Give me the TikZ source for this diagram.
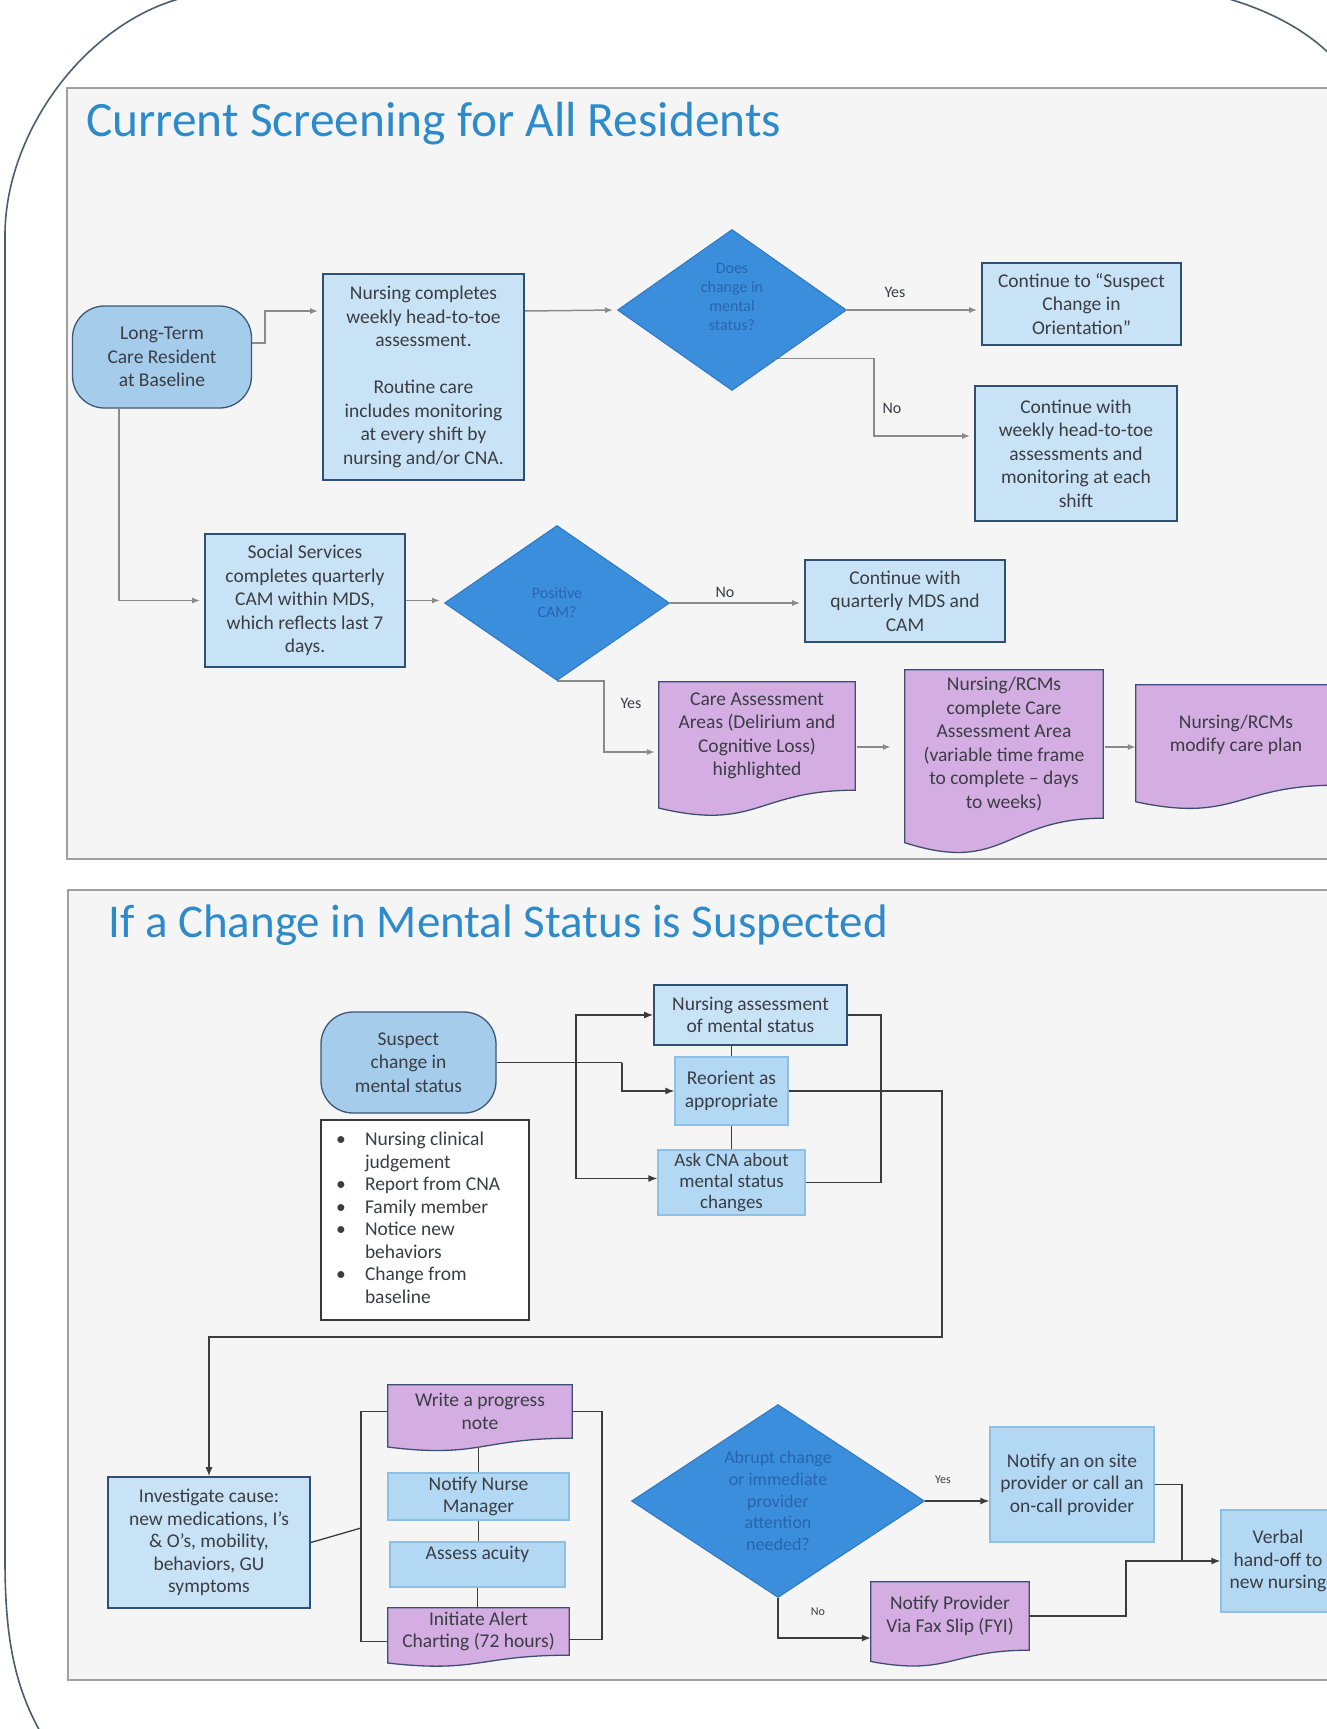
\documentclass[tikz,border=0pt]{standalone}
\usepackage{fontspec}
\setmainfont{Carlito}
\usetikzlibrary{shapes.geometric,arrows.meta,calc}
\definecolor{termf}{HTML}{A5CDEB}
\definecolor{termb}{HTML}{3C5876}
\definecolor{procf}{HTML}{C9E3F6}
\definecolor{procb}{HTML}{2F4F73}
\definecolor{lightf}{HTML}{B3D8F3}
\definecolor{lightb}{HTML}{8EC0E6}
\definecolor{decf}{HTML}{3B8EDC}
\definecolor{decb}{HTML}{2F78C4}
\definecolor{dect}{HTML}{2766AE}
\definecolor{docf}{HTML}{D4AEE2}
\definecolor{docb}{HTML}{3E4E72}
\definecolor{txt}{HTML}{3A3D44}
\definecolor{conna}{HTML}{8A8A8A}
\definecolor{connb}{HTML}{3C3C3C}
\definecolor{panelf}{HTML}{F5F5F5}
\definecolor{panelb}{HTML}{A0A0A0}
\definecolor{framec}{HTML}{4D5D6E}
\definecolor{titlec}{HTML}{2D8BCB}
\definecolor{listb}{HTML}{3A3A3A}
\newcommand\bfnt{\fontsize{19.5}{23.5}\selectfont}
\newcommand\pfnt{\fontsize{19.5}{22.5}\selectfont}
\newcommand\dfnt{\fontsize{16}{19}\selectfont}
\newcommand\dfntb{\fontsize{18}{21.7}\selectfont}
\newcommand\tfnta{\fontsize{49.4}{56}\selectfont}
\newcommand\tfntb{\fontsize{47}{56}\selectfont}
\newcommand\lfnt{\fontsize{16}{18}\selectfont}
\newcommand\sfnt{\fontsize{12}{14}\selectfont}
\pgfdeclarelayer{bg}
\pgfdeclarelayer{lines}
\pgfdeclarelayer{docs}
\pgfsetlayers{bg,lines,docs,main}
\newcommand\docshape[1]{%
\begin{pgfonlayer}{docs}
\path[docpath] let \p1=(#1.north west), \p2=(#1.south east) in
 (\x1,\y1) -- (\x2,\y1) -- (\x2,\y2)
 .. controls ({(\x1+\x2)/2},\y2) and ({(\x1+\x2)/2},{\y2-0.38*(\y1-\y2)}) ..
 (\x1,{\y2-0.165*(\y1-\y2)}) -- cycle;
\end{pgfonlayer}}
\tikzset{
 base/.style={align=center, font=\bfnt, text=txt, inner sep=1pt},
 term/.style={base, rectangle, rounded corners=32pt, draw=termb, fill=termf, line width=1.3pt},
 proc/.style={base, rectangle, draw=procb, fill=procf, line width=1.6pt},
 procl/.style={base, rectangle, draw=lightb, fill=lightf, line width=1.3pt, inner ysep=0pt},
 dec/.style={base, diamond, aspect=1.5, draw=decb, fill=decf, line width=1pt, text=dect, font=\dfnt, inner sep=0pt},
 docn/.style={base, rectangle},
 docpath/.style={fill=docf, draw=docb, line width=1.3pt},
 listbox/.style={rectangle, draw=listb, fill=white, line width=1.5pt, font=\pfnt, text=txt, inner sep=0pt},
 ttl/.style={text=titlec, inner sep=0pt, anchor=base west},
 lab/.style={font=\lfnt, text=txt, inner sep=0pt},
 labs/.style={font=\sfnt, text=txt, inner sep=0pt},
 ca/.style={draw=conna, line width=1.5pt, -{Latex[length=8pt,width=6pt]}, shorten >=4pt},
 cb/.style={draw=connb, line width=1.3pt, -{Latex[length=9pt,width=7pt]}},
 lb/.style={draw=connb, line width=1.3pt},
 panel/.style={draw=panelb, fill=panelf, line width=2pt},
 frm/.style={draw=framec, line width=1.6pt},
}
\begin{document}
\begin{tikzpicture}[x=1pt,y=-1pt]
\useasboundingbox (0,0) rectangle (1327,1729);
\clip (0,0) rectangle (1327,1729);
\begin{pgfonlayer}{bg}
\fill[white] (0,0) rectangle (1327,1729);
\draw[frm] (45,1740) .. controls (15,1690) and (5,1640) .. (5,1560) -- (5,235) .. controls (5,130) and (90,15) .. (195,-5);
\draw[frm] (1215,-5) .. controls (1265,8) and (1310,30) .. (1340,65);
\draw[panel] (67,88) rectangle (1345,859);
\draw[panel] (68,890) rectangle (1345,1680);
\end{pgfonlayer}

% titles
\node[ttl, font=\tfnta] (t1) at (86,136) {Current Screening for All Residents};
\node[ttl, font=\tfntb] (t2) at (108,937) {If a Change in Mental Status is Suspected};

% ---- panel 1
\node[term, minimum width=179pt, minimum height=102pt] (start) at (162,357) {Long-Term\\Care Resident\\at Baseline};
\node[proc, minimum width=201pt, minimum height=206pt] (nurse) at (423.5,377) {Nursing completes\\weekly head-to-toe\\assessment.\\\mbox{}\\Routine care\\includes monitoring\\at every shift by\\nursing and/or CNA.};
\node[dec, minimum width=229pt, minimum height=161pt] (d1) at (732,310) {Does\\change in\\mental\\status?\\[8pt]\mbox{}};
\node[proc, minimum width=199pt, minimum height=82pt] (yesb) at (1081.5,304) {Continue to “Suspect\\Change in\\Orientation”};
\node[proc, minimum width=202pt, minimum height=135pt] (nob) at (1076,453.5) {Continue with\\weekly head-to-toe\\assessments and\\monitoring at each\\shift};
\node[proc, minimum width=200pt, minimum height=133pt] (soc) at (305,600.5) {Social Services\\completes quarterly\\CAM within MDS,\\which reflects last 7\\days.};
\node[dec, minimum width=225pt, minimum height=155pt] (d2) at (557,603) {Positive\\CAM?};
\node[proc, minimum width=200pt, minimum height=82pt] (quart) at (905,601) {Continue with\\quarterly MDS and\\CAM};
\node[docn, minimum width=196pt, minimum height=108pt] (caa) at (757,736) {Care Assessment\\Areas (Delirium and\\Cognitive Loss)\\highlighted};
\docshape{caa}
\node[docn, minimum width=198pt, minimum height=148pt] (comp) at (1004,744) {Nursing/RCMs\\complete Care\\Assessment Area\\(variable time frame\\to complete – days\\to weeks)};
\docshape{comp}
\node[docn, minimum width=200pt, minimum height=100pt] (modify) at (1236,735) {Nursing/RCMs\\modify care plan};
\docshape{modify}

\node[lab] (ly1) at (895,292) {Yes};
\node[lab] (ln1) at (892,408) {No};
\node[lab] (ln2) at (725,592) {No};
\node[lab] (ly2) at (631,703) {Yes};

% ---- panel 2
\node[term, minimum width=175pt, minimum height=101pt] (susp) at (408.5,1062.5) {Suspect\\change in\\mental status};
\node[listbox, minimum width=208pt, minimum height=200pt] (lst) at (425,1220) {\begin{tabular}{@{}p{29pt}@{}p{149pt}@{}}
\textbullet & Nursing clinical\\
 & judgement\\
\textbullet & Report from CNA\\
\textbullet & Family member\\
\textbullet & Notice new\\
 & behaviors\\
\textbullet & Change from\\
 & baseline
\end{tabular}};
\node[proc, font=\pfnt, minimum width=193pt, minimum height=60pt] (nasmt) at (750.5,1015) {Nursing assessment\\of mental status};
\node[procl, font=\pfnt, minimum width=113pt, minimum height=68pt] (reor) at (731.5,1091) {Reorient as\\appropriate};
\node[procl, font=\fontsize{19}{21}\selectfont, minimum width=147pt, minimum height=65pt] (askcna) at (731.5,1182.5) {Ask CNA about\\mental status\\changes};
\node[proc, font=\pfnt, minimum width=202pt, minimum height=131pt] (inv) at (209,1542.5) {Investigate cause:\\new medications, I’s\\\& O’s, mobility,\\behaviors, GU\\symptoms};
\node[docn, font=\pfnt, minimum width=184pt, minimum height=53pt] (prog) at (480,1411.5) {Write a progress\\note};
\docshape{prog}
\node[procl, font=\pfnt, minimum width=181pt, minimum height=47pt] (nnm) at (478.5,1496.5) {Notify Nurse\\Manager};
\node[procl, font=\pfnt, minimum width=175pt, minimum height=45pt] (acuity) at (477.5,1564.5) {Assess acuity\\\mbox{}};
\node[docn, font=\pfnt, minimum width=181pt, minimum height=47pt] (init) at (478.5,1631.5) {Initiate Alert\\Charting (72 hours)};
\docshape{init}
\node[dec, font=\dfntb, minimum width=293pt, minimum height=193pt] (d3) at (778,1501) {Abrupt change\\or immediate\\provider\\attention\\needed?};
\node[procl, font=\pfnt, minimum width=164pt, minimum height=115pt] (onsite) at (1072,1484.5) {Notify an on site\\provider or call an\\on-call provider};
\node[docn, font=\pfnt, minimum width=158pt, minimum height=68pt] (fax) at (950,1616) {Notify Provider\\Via Fax Slip (FYI)};
\docshape{fax}
\node[procl, font=\pfnt, minimum width=114pt, minimum height=102pt] (verbal) at (1278,1561) {Verbal\\hand-off to\\new nursing};

\node[labs] (ly3) at (943,1480) {Yes};
\node[labs] (ln3) at (818,1612) {No};

\coordinate (j1) at (576,1062.5);
\coordinate (j2) at (622,1062.5);
\coordinate (bl) at (361,1528);
\coordinate (br) at (602,1528);
\coordinate (m1) at (1182,1561);
\coordinate (m2) at (1126,1561);

\begin{pgfonlayer}{lines}
% panel 1
\draw[ca] ($(start.east)+(0,-14)$) -- ++(13,0) |- ($(nurse.west)+(0,-66)$);
\draw[ca] ($(start.south)+(-43,0)$) |- (soc.west);
\draw[ca] ($(nurse.east)+(0,-66)$) -- (d1.west);
\draw[ca] (d1.east) -- (yesb.west |- d1.east);
\draw[ca] ($(d1.east)!0.6!(d1.south)$) -| ($(nob.west)+(-100,-17.5)$) -- ($(nob.west)+(0,-17.5)$);
\draw[ca] (soc.east) -- (d2.west |- soc.east);
\draw[ca] (d2.east) -- (quart.west |- d2.east);
\draw[ca] (d2.south) -- ++(47,0) |- ($(caa.west)+(0,16)$);
\draw[ca] ($(caa.east)+(2,11)$) -- ($(comp.west)+(-10,3)$);
\draw[ca] ($(comp.east)+(2,3)$) -- ($(modify.west)+(4,12)$);
% panel 2
\draw[lb] (susp.east) -- (j2);
\draw[cb] (j2) |- (reor.west);
\draw[cb] (j1) |- (nasmt.west);
\draw[cb] (j1) |- ($(askcna.west)+(0,-4)$);
\draw[lb] (reor.north |- nasmt.south) -- (reor.north);
\draw[lb] (reor.south) -- (askcna.north);
\draw[lb] (nasmt.east) -| (881,1100) |- (askcna.east);
\draw[cb] (reor.east) -| (942,1337) -| (inv.north);
\draw[lb] (prog.west) -| (bl) |- ($(init.west)+(0,10)$);
\draw[lb] (prog.east) -| (br) |- ($(init.east)+(0,8)$);
\draw[lb] (inv.east) -- (bl);
\draw[lb] (nnm.north |- prog.south) -- (nnm.north);
\draw[lb] (nnm.south) -- (nnm.south |- acuity.north);
\draw[lb] (acuity.south) -- (acuity.south |- init.north);
\draw[cb] (d3.east) -- (onsite.west |- d3.east);
\draw[cb] (d3.south) |- ($(fax.west)+(0,22)$);
\draw[cb] (onsite.east) -| (m1) -- (verbal.west);
\draw[lb] (fax.east) -| (m2) -- (m1);
\end{pgfonlayer}
\end{tikzpicture}
\end{document}
